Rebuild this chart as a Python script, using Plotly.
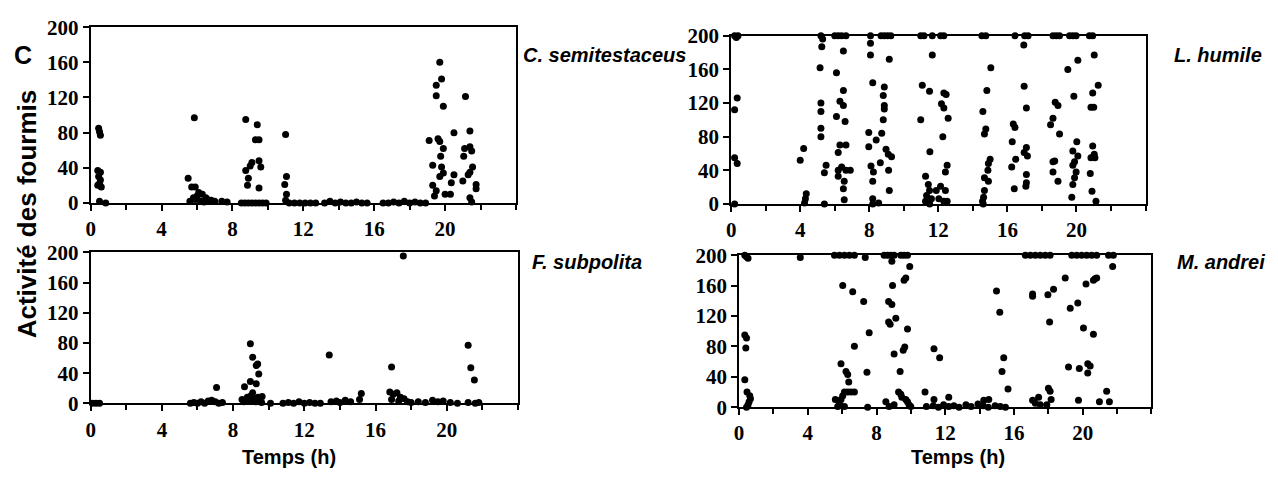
import plotly.graph_objects as go

# ---------------- data ----------------
x_ticks = [0, 4, 8, 12, 16, 20]
y_ticks = [0, 40, 80, 120, 160, 200]

cs_x = [0.45, 0.5, 0.55, 0.4, 0.55, 0.45, 0.5, 0.6, 0.4, 0.55, 0.5, 0.85,
        5.85, 5.5, 5.7, 5.9, 6.1, 6.3, 6.0, 5.8, 6.5, 6.6, 6.8, 7.0, 7.4, 5.6, 6.2, 5.9, 6.4, 7.7,
        8.75, 9.4, 9.3, 9.5, 9.1, 9.5, 9.6, 9.0, 8.75, 8.9, 8.85, 9.5,
        8.5, 8.7, 8.9, 9.1, 9.3, 9.5, 9.7, 9.9,
        11.0, 11.05, 10.95, 11.05, 11.0,
        11.2, 11.5, 11.8, 12.1, 12.4, 12.7,
        13.2, 13.5, 13.8, 14.1, 14.4, 14.7, 15.0, 15.3, 15.6,
        16.5, 16.8, 17.1, 17.4, 17.7, 18.0, 18.3, 18.6, 18.9,
        19.7, 19.8, 19.5, 19.5, 19.9,
        19.1, 19.6, 19.7, 19.9, 19.75, 19.3, 19.8, 19.9, 19.7, 19.3, 19.5, 19.4, 20.0, 20.3, 20.35, 20.5, 20.5,
        21.15, 21.4, 21.1, 21.4, 21.5, 21.05, 21.55, 21.4, 21.3, 21.0, 21.75, 21.75, 21.4, 21.5]
cs_y = [85, 81, 77, 37, 35, 30, 22, 18, 20, 26, 2, 0,
        97, 28, 18, 18, 12, 10, 8, 6, 6, 4, 3, 2, 2, 2, 2, 4, 1, 1,
        95, 89, 72, 72, 46, 48, 41, 42, 37, 28, 20, 17,
        0, 0, 0, 0, 0, 0, 0, 0,
        78, 30, 21, 10, 3,
        0, 0, 0, 0, 0, 0,
        0, 2, 0, 1, 0, 0, 1, 0, 0,
        0, 0, 1, 0, 2, 0, 1, 0, 0,
        160, 141, 134, 122, 110,
        71, 73, 70, 62, 53, 43, 41, 34, 30, 20, 14, 8, 10, 10, 23, 32, 80,
        121, 82, 62, 64, 59, 53, 41, 35, 32, 25, 21, 16, 6, 1]

lh_x = [0.2, 0.3, 0.35, 0.2, 0.2, 0.35, 0.2, 0.4,
        4.2, 4.0, 4.35, 4.3, 4.25,
        5.2, 5.3, 5.25, 5.15, 5.2, 5.2, 5.2, 5.2, 5.5, 5.4, 5.4,
        6.0, 6.2, 6.4, 6.65, 6.5, 6.1, 6.5, 6.3, 6.5, 6.1, 6.6, 6.3, 6.65, 6.2, 6.4, 6.2, 6.65, 6.9, 6.2, 6.55, 6.5, 6.55,
        8.07, 8.68, 8.87, 9.06, 9.25, 8.07, 8.07, 9.16, 8.2, 8.87, 8.81, 8.87, 8.87, 8.81, 7.97, 8.72, 8.4, 7.97,
        8.97, 9.1, 9.29, 8.1, 8.64, 9.12, 8.24, 8.2, 9.16, 8.2, 8.54, 8.2,
        10.98, 11.17, 11.65, 12.13, 12.32, 11.65, 11.07, 11.49, 12.32, 12.45, 12.18, 12.32, 12.57, 10.98, 12.26,
        11.51, 12.51, 12.41, 11.26, 11.42, 12.13, 11.49, 11.88, 12.41, 11.32, 11.6, 12.03, 11.26, 12.32, 12.51, 11.5,
        14.52, 14.75, 15.04, 14.81, 14.58, 14.75, 14.67, 15.0, 14.9, 14.87, 14.67, 14.9, 14.67, 14.62, 14.56, 14.6,
        16.44, 17.0, 17.2, 16.95, 16.97, 17.1, 16.34, 16.44, 16.28, 17.1, 16.97, 17.16, 16.48, 16.25, 17.1, 17.1, 17.07, 16.4,
        18.64, 18.83, 19.02, 18.77, 18.93, 18.64, 18.5, 19.02, 18.74, 18.64, 18.64, 18.93,
        19.6, 19.79, 19.98, 20.08, 19.5, 19.85, 20.02, 19.79, 20.08, 19.89, 19.79, 19.98, 19.89, 19.79, 19.73,
        20.75, 20.94, 21.03, 21.26, 20.94, 20.84, 21.0, 20.94, 21.03, 20.84, 21.07, 20.8, 20.9, 21.13]
lh_y = [200, 198, 126, 112, 55, 48, 0, 200,
        66, 52, 12, 6, 1,
        200, 196, 187, 162, 120, 110, 90, 80, 46, 37, 0,
        200, 200, 200, 200, 182, 156, 135, 122, 117, 104, 98, 70, 70, 61, 44, 40, 40, 40, 33, 27, 18, 5,
        200, 200, 200, 200, 200, 191, 177, 172, 144, 139, 129, 117, 113, 100, 85, 84, 76, 68,
        65, 59, 56, 45, 49, 40, 38, 27, 16, 6, 1, 0,
        200, 200, 200, 200, 200, 177, 141, 134, 132, 130, 119, 114, 102, 100, 80,
        62, 46, 38, 33, 23, 21, 16, 16, 16, 10, 6, 6, 3, 3, 3, 0,
        200, 200, 162, 135, 110, 89, 83, 53, 48, 40, 31, 27, 16, 8, 3, 0,
        200, 200, 200, 189, 140, 114, 95, 91, 74, 67, 61, 57, 53, 44, 35, 25, 21, 18,
        200, 200, 200, 121, 117, 102, 94, 83, 51, 50, 38, 27,
        200, 200, 200, 171, 160, 128, 74, 63, 57, 50, 46, 38, 31, 23, 8,
        200, 200, 177, 141, 132, 115, 115, 69, 59, 55, 55, 36, 15, 3]

fs_x = [0.1, 0.3, 0.5,
        5.6, 5.8, 6.0, 6.2, 6.4, 6.6, 6.8, 7.0, 7.2, 7.4,
        7.07,
        8.97, 9.1, 9.38, 9.3, 9.44, 8.64, 8.97, 9.3, 9.1, 9.63,
        8.5, 8.6, 8.8, 8.9, 9.0, 9.1, 9.2, 9.3, 9.4, 9.5, 9.6,
        10.1,
        10.8, 11.1, 11.4, 11.7, 12.0, 12.3, 12.6, 12.9,
        13.4, 13.5, 13.8, 14.0, 14.3, 14.6, 15.2, 15.1,
        16.9, 16.8, 17.0, 17.2, 17.4, 17.6, 16.9, 17.3, 17.8,
        17.56,
        18.0, 18.4, 18.8, 19.2, 19.5, 19.8, 20.2, 20.6, 21.2, 21.6, 21.8,
        21.2, 21.35, 21.55]
fs_y = [0, 0, 0,
        0, 1, 0, 2, 0, 3, 4, 2, 0, 1,
        21,
        79, 61, 52, 50, 39, 22, 29, 26, 14, 9,
        5, 2, 8, 3, 10, 4, 6, 2, 8, 3, 1,
        0,
        0, 1, 0, 2, 0, 1, 0, 0,
        64, 2, 3, 1, 4, 2, 13, 5,
        48, 15, 12, 14, 8, 6, 5, 3, 2,
        195,
        1, 2, 1, 4, 2, 3, 1, 0, 1, 0, 1,
        77, 47, 31]

ma_x = [0.33, 0.43, 0.52, 0.33, 0.43, 0.39, 0.33, 0.46, 0.62, 0.66, 0.58, 0.52, 0.43,
        3.56,
        5.55, 5.84, 6.13, 6.42, 6.71, 6.03, 6.61, 6.71, 5.93, 6.22, 6.32, 6.38, 6.13, 6.32, 6.51, 6.71, 6.03, 5.6, 5.93, 5.84, 5.74, 6.13,
        7.25, 7.57, 7.44, 7.34, 7.48,
        8.44, 8.64, 8.83, 9.02, 9.41, 9.6, 9.8, 8.89, 9.93, 9.7, 9.6, 8.93, 8.7, 8.89, 9.12, 8.7, 8.79, 9.8, 9.64, 9.55, 9.02,
        9.37, 9.28, 9.41, 9.47, 9.7, 8.54, 9.8, 9.02, 9.89, 8.73, 9.99,
        10.82, 11.34, 11.67, 11.34, 12.2,
        10.9, 11.3, 11.6, 11.9, 12.2, 12.5, 12.8, 13.2, 13.5, 13.9, 14.2, 14.5, 14.9, 15.2, 15.5, 14.24, 14.53,
        14.98, 15.17, 15.4, 15.3, 15.65,
        16.66, 16.95, 17.24, 17.53, 17.82, 18.1, 17.08, 17.08, 17.97, 18.3, 18.07, 18.0, 18.1, 17.43, 18.16, 17.08, 17.24, 17.53, 17.91,
        18.98, 19.27, 19.71, 19.17, 19.8, 19.75, 19.36, 19.65, 19.94, 20.23, 20.52, 20.81,
        20.04, 20.19, 20.29, 20.43, 20.29, 20.62, 20.62, 20.71, 20.81, 20.97, 21.39, 21.55, 21.5, 21.74, 21.78]
ma_y = [200, 198, 196, 95, 91, 78, 36, 20, 15, 11, 7, 3, 0,
        197,
        200, 200, 200, 200, 200, 160, 152, 80, 57, 47, 43, 33, 20, 20, 20, 20, 15, 10, 10, 5, 1, 1,
        139, 98, 46, 197, 0,
        200, 200, 200, 200, 200, 200, 200, 192, 185, 170, 167, 160, 139, 135, 117, 112, 109, 103, 79, 75, 70,
        47, 20, 17, 13, 10, 7, 7, 3, 3, 1, 1,
        20, 77, 65, 10, 13,
        1, 2, 0, 3, 1, 2, 0, 3, 1, 4, 2, 0, 2, 1, 0, 9, 10,
        153, 125, 65, 47, 24,
        200, 200, 200, 200, 200, 200, 149, 146, 148, 155, 112, 25, 21, 13, 10, 9, 5, 3, 3,
        170, 130, 137, 53, 51, 9, 200, 200, 200, 200, 200, 200,
        104, 162, 57, 54, 45, 96, 167, 169, 170, 7, 21, 7, 200, 185, 200]

species = ["C. semitestaceus", "L. humile", "F. subpolita", "M. andrei"]
panels = [(cs_x, cs_y), (lh_x, lh_y), (fs_x, fs_y), (ma_x, ma_y)]

# ---------------- layout geometry ----------------
W, H = 1278, 479
def dom_x(a, b):
    return [a / W, b / W]
def dom_y(top, bottom):
    return [1 - bottom / H, 1 - top / H]

domains = [
    (dom_x(86, 513), dom_y(16, 201)),
    (dom_x(729, 1145), dom_y(25, 202)),
    (dom_x(86, 515), dom_y(253, 412)),
    (dom_x(737, 1151), dom_y(256, 416)),
]

tick_font = dict(family="Liberation Serif", size=21, color="black", weight="bold")

fig = go.Figure()
layout = dict(
    width=W, height=H,
    margin=dict(l=0, r=0, t=0, b=0),
    paper_bgcolor="white", plot_bgcolor="white",
    showlegend=False,
)

for i, ((xs, ys), (dx, dy)) in enumerate(zip(panels, domains)):
    n = "" if i == 0 else str(i + 1)
    fig.add_trace(go.Scatter(
        x=xs, y=ys, mode="markers",
        marker=dict(color="black", size=7),
        cliponaxis=False,
        xaxis="x" + n, yaxis="y" + n,
        name=species[i],
    ))
    axis_common = dict(showline=True, mirror=True, linecolor="black", linewidth=2,
                       ticks="outside", ticklen=6, tickwidth=2, tickcolor="black",
                       showgrid=False, zeroline=False, tickfont=tick_font)
    layout["xaxis" + n] = dict(domain=dx, range=[0, 24], tickvals=x_ticks,
                               ticktext=[str(v) for v in x_ticks],
                               minor=dict(dtick=2, tick0=0, ticks="outside", ticklen=5,
                                          tickwidth=1.5, tickcolor="black", showgrid=False),
                               anchor="y" + n, **axis_common)
    layout["yaxis" + n] = dict(domain=dy, range=[0, 200], tickvals=y_ticks,
                               ticktext=[str(v) for v in y_ticks],
                               anchor="x" + n, **axis_common)

fig.update_layout(**layout)

annots = [
    dict(text="<b>C</b>", x=18, y=45, size=25),
    dict(text="<b><i>C. semitestaceus</i></b>", x=602, y=45, size=20),
    dict(text="<b><i>L. humile</i></b>", x=1218, y=45, size=20),
    dict(text="<b><i>F. subpolita</i></b>", x=584, y=263, size=20),
    dict(text="<b><i>M. andrei</i></b>", x=1221, y=263, size=20),
    dict(text="<b>Temps (h)</b>", x=285, y=468, size=20),
    dict(text="<b>Temps (h)</b>", x=957, y=468, size=20),
]
for a in annots:
    fig.add_annotation(text=a["text"], x=a["x"] / W, y=1 - a["y"] / H,
                       xref="paper", yref="paper", showarrow=False,
                       xanchor="center", yanchor="middle",
                       font=dict(family="Liberation Sans", size=a["size"], color="black"))
fig.add_annotation(text="<b>Activité des fourmis</b>", x=22 / W, y=1 - 212 / H,
                   xref="paper", yref="paper", showarrow=False, textangle=-90,
                   xanchor="center", yanchor="middle",
                   font=dict(family="Liberation Sans", size=26, color="black"))

fig.write_html("out.html")
